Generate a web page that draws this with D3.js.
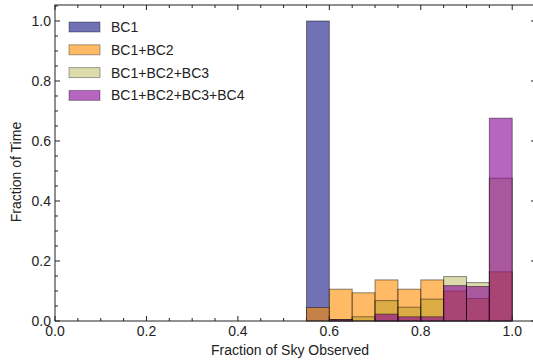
<!DOCTYPE html>
<html>
<head>
<meta charset="utf-8">
<script src="https://cdn.jsdelivr.net/npm/d3@7"></script>
<style>
  body { margin: 0; background: #fff; }
  svg text { font-family: "Liberation Sans", Arial, Helvetica, sans-serif; fill: #222; }
</style>
</head>
<body>
<svg id="chart" width="533" height="361"></svg>
<script>
// histogram bins: left edges, width 0.05
const binStarts = [0.55, 0.60, 0.65, 0.70, 0.75, 0.80, 0.85, 0.90, 0.95];
const binWidth = 0.05;

const bc1    = [1.0,   0,     0,     0,     0,     0,     0,     0,     0];
const bc12   = [0.045, 0.106, 0.094, 0.137, 0.106, 0.137, 0.100, 0.075, 0.164];
const bc123  = [0,     0.005, 0.014, 0.068, 0.046, 0.073, 0.148, 0.128, 0.476];
const bc1234 = [0,     0.005, 0,     0.023, 0.014, 0.014, 0.118, 0.115, 0.676];

const seriesNames = ["BC1", "BC1+BC2", "BC1+BC2+BC3", "BC1+BC2+BC3+BC4"];
const seriesValues = [bc1, bc12, bc123, bc1234];
const seriesColors = ["rgba(10,10,130,0.58)", "rgba(255,140,0,0.6)", "rgba(150,145,0,0.33)", "rgba(135,0,148,0.6)"];

const xTicks = [0.0, 0.2, 0.4, 0.6, 0.8, 1.0];
const yTicks = [0.0, 0.2, 0.4, 0.6, 0.8, 1.0];

const svg = d3.select("#chart");
const mLeft = 55, mRight = 536, mTop = 5, mBottom = 321;

const x = d3.scaleLinear().domain([0, 1.052]).range([mLeft, mRight]);
const y = d3.scaleLinear().domain([0, 1.0533]).range([mBottom, mTop]);

// bars, drawn series by series so later ones overlay earlier ones
seriesValues.forEach((vals, i) => {
  svg.append("g")
    .selectAll("rect")
    .data(binStarts.map((b, j) => ({ b, v: vals[j] })).filter(d => d.v > 0))
    .enter()
    .append("rect")
    .attr("x", d => x(d.b))
    .attr("width", d => x(d.b + binWidth) - x(d.b))
    .attr("y", d => y(d.v))
    .attr("height", d => y(0) - y(d.v))
    .attr("fill", seriesColors[i])
    .attr("stroke", "rgba(0,0,0,0.45)")
    .attr("stroke-width", 1);
});

// frame
svg.append("rect")
  .attr("x", mLeft).attr("y", mTop)
  .attr("width", mRight - mLeft).attr("height", mBottom - mTop)
  .attr("fill", "none").attr("stroke", "#222").attr("stroke-width", 1);

const minorX = d3.range(0, 1.051, 0.05);
const minorY = d3.range(0, 1.051, 0.05);

// inward ticks on all four sides
const tickG = svg.append("g").attr("stroke", "#222").attr("stroke-width", 1);
minorX.forEach(v => {
  const major = xTicks.some(t => Math.abs(t - v) < 1e-6);
  const len = major ? 5 : 3;
  tickG.append("line").attr("x1", x(v)).attr("x2", x(v)).attr("y1", mBottom).attr("y2", mBottom - len);
  tickG.append("line").attr("x1", x(v)).attr("x2", x(v)).attr("y1", mTop).attr("y2", mTop + len);
});
minorY.forEach(v => {
  const major = yTicks.some(t => Math.abs(t - v) < 1e-6);
  const len = major ? 5 : 3;
  tickG.append("line").attr("y1", y(v)).attr("y2", y(v)).attr("x1", mLeft).attr("x2", mLeft + len);
  tickG.append("line").attr("y1", y(v)).attr("y2", y(v)).attr("x1", mRight).attr("x2", mRight - len);
});

// tick labels
svg.append("g").selectAll("text")
  .data(xTicks).enter().append("text")
  .attr("x", d => x(d)).attr("y", mBottom + 15)
  .attr("text-anchor", "middle").attr("font-size", 14)
  .text(d => d.toFixed(1));

svg.append("g").selectAll("text")
  .data(yTicks).enter().append("text")
  .attr("x", mLeft - 4).attr("y", d => y(d) + 5)
  .attr("text-anchor", "end").attr("font-size", 14)
  .text(d => d.toFixed(1));

// axis titles
svg.append("text")
  .attr("x", 290).attr("y", 355)
  .attr("text-anchor", "middle").attr("font-size", 14)
  .text("Fraction of Sky Observed");

svg.append("text")
  .attr("transform", "translate(21,172) rotate(-90)")
  .attr("text-anchor", "middle").attr("font-size", 14)
  .text("Fraction of Time");

// legend
const legend = svg.append("g");
seriesNames.forEach((name, i) => {
  const cy = 27 + i * 22.8;
  legend.append("rect")
    .attr("x", 69).attr("y", cy - 5)
    .attr("width", 31).attr("height", 10)
    .attr("fill", seriesColors[i])
    .attr("stroke", "rgba(0,0,0,0.35)");
  legend.append("text")
    .attr("x", 111).attr("y", cy + 5)
    .attr("font-size", 14)
    .text(name);
});
</script>
</body>
</html>
